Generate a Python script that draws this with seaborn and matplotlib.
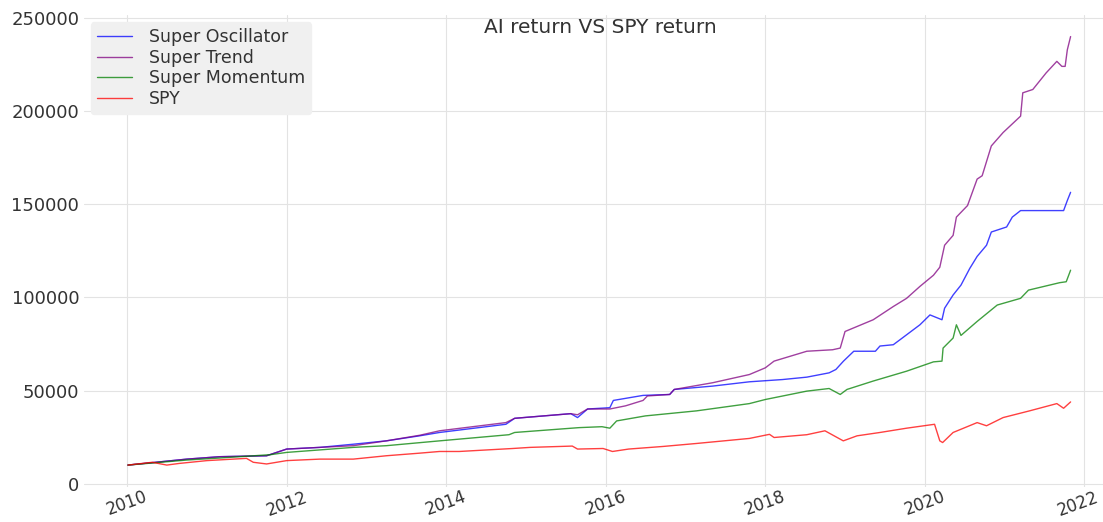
import pandas as pd
import matplotlib
matplotlib.use("Agg")
import matplotlib.pyplot as plt
import matplotlib.dates as mdates
import matplotlib.transforms as mtransforms
import seaborn as sns

# values (portfolio value, start 10000)
spy_dates = ["2010-01-04", "2010-04-25", "2010-07-01", "2010-08-28", "2011-01-01", "2011-07-01",
             "2011-08-01", "2011-10-01", "2012-01-01", "2012-06-01", "2012-11-01", "2013-04-01",
             "2013-09-01", "2013-12-01", "2014-03-01", "2014-11-01", "2015-01-20", "2015-08-01",
             "2015-08-25", "2015-12-20", "2016-02-01", "2016-04-15", "2016-09-20", "2017-02-20",
             "2017-10-20", "2018-01-20", "2018-02-10", "2018-07-10", "2018-10-01", "2018-12-24",
             "2019-02-25", "2019-06-10", "2019-10-10", "2020-02-15", "2020-03-10", "2020-03-23",
             "2020-05-10", "2020-08-28", "2020-10-10", "2020-12-25", "2021-04-25", "2021-08-28",
             "2021-09-28", "2021-10-30"]
spy_vals = [10000, 11500, 10000, 10900, 12400, 13600, 11500, 10600, 12400, 13200, 13200, 15000,
            16400, 17300, 17300, 18900, 19500, 20200, 18600, 18900, 17300, 18600, 20000, 21600,
            24300, 26500, 24800, 26300, 28400, 23000, 25700, 27500, 29800, 31900, 23000, 22100,
            27500, 32800, 31100, 35500, 39100, 43000, 40500, 43900]

mom_dates = ["2010-01-04", "2010-10-01", "2011-03-01", "2011-10-20", "2012-01-01", "2012-11-01",
             "2013-04-01", "2013-12-01", "2014-10-15", "2014-11-10", "2015-09-01", "2015-12-15",
             "2016-01-20", "2016-02-20", "2016-07-01", "2017-02-20", "2017-10-20", "2018-01-01",
             "2018-07-10", "2018-10-20", "2018-12-10", "2019-01-10", "2019-05-10", "2019-10-10",
             "2020-02-10", "2020-03-20", "2020-03-25", "2020-05-10", "2020-05-25", "2020-06-15",
             "2020-08-28", "2020-11-28", "2021-03-15", "2021-04-20", "2021-09-10", "2021-10-10",
             "2021-10-30"]
mom_vals = [10000, 12700, 13800, 15600, 16800, 19500, 20400, 23000, 26300, 27500, 30100, 30600,
            29800, 33700, 36400, 39100, 43000, 45200, 49700, 51100, 47900, 50600, 55100, 60400,
            65400, 65800, 72800, 78200, 85300, 79600, 87100, 95900, 99500, 103900, 107900, 108400,
            114600]

osc_dates = ["2010-01-04", "2010-10-01", "2011-03-01", "2011-10-01", "2012-01-01", "2012-06-01",
             "2012-11-01", "2013-04-01", "2013-09-01", "2013-12-01", "2014-10-01", "2014-11-10",
             "2015-07-25", "2015-08-25", "2015-10-10", "2016-01-20", "2016-02-05", "2016-06-20",
             "2016-10-20", "2016-11-10", "2017-05-05", "2017-10-20", "2018-03-20", "2018-07-10",
             "2018-10-20", "2018-11-20", "2018-12-25", "2019-02-10", "2019-05-20", "2019-06-10",
             "2019-08-10", "2019-09-10", "2019-12-10", "2020-01-25", "2020-03-20", "2020-04-01",
             "2020-05-10", "2020-06-15", "2020-07-25", "2020-08-28", "2020-10-10", "2020-11-01",
             "2021-01-10", "2021-02-05", "2021-03-15", "2021-09-28", "2021-10-15", "2021-10-30"]
osc_vals = [10000, 13200, 14500, 15000, 18600, 19500, 21200, 23000, 25700, 27500, 31900, 35100,
            37600, 35500, 40100, 40800, 44700, 47400, 47900, 50600, 52400, 54700, 55900, 57200,
            59500, 61300, 65800, 71100, 71100, 73900, 74600, 77300, 85300, 90600, 88000, 94200,
            101300, 106600, 115500, 122000, 128000, 135100, 137800, 143100, 146600, 146600, 152000,
            156400]

trend_dates = ["2010-01-04", "2010-10-01", "2011-03-01", "2011-10-01", "2012-01-01", "2012-06-01",
               "2012-11-01", "2013-04-01", "2013-09-01", "2013-12-01", "2014-10-01", "2014-11-10",
               "2015-07-25", "2015-08-25", "2015-10-10", "2016-01-20", "2016-04-01", "2016-06-20",
               "2016-07-10", "2016-10-20", "2016-11-10", "2017-05-05", "2017-10-20", "2018-01-01",
               "2018-02-10", "2018-07-10", "2018-11-05", "2018-12-10", "2019-01-01", "2019-05-10",
               "2019-08-10", "2019-10-10", "2019-12-10", "2020-02-10", "2020-03-10", "2020-04-01",
               "2020-05-10", "2020-05-25", "2020-07-15", "2020-08-28", "2020-09-20", "2020-11-01",
               "2020-12-25", "2021-03-15", "2021-03-25", "2021-05-10", "2021-07-10", "2021-08-28",
               "2021-09-20", "2021-10-05", "2021-10-15", "2021-10-30"]
trend_vals = [10000, 13200, 14500, 15000, 18600, 19500, 20400, 23000, 26000, 28400, 32800, 35100,
              37600, 37000, 40100, 40100, 41800, 44700, 47100, 47900, 50600, 54200, 58600, 62200,
              65800, 71100, 71900, 72800, 81700, 88000, 95100, 99500, 105900, 111900, 116200, 128000,
              133300, 143100, 149300, 163500, 165300, 181300, 188500, 197300, 209800, 211600, 220500,
              226700, 224000, 224000, 232900, 240000]

series_names = ["Super Oscillator", "Super Trend", "Super Momentum", "SPY"]
series_colors = ["blue", "purple", "green", "red"]

frames = []
for name, d, v in zip(series_names,
                      [osc_dates, trend_dates, mom_dates, spy_dates],
                      [osc_vals, trend_vals, mom_vals, spy_vals]):
    frames.append(pd.DataFrame({"date": pd.to_datetime(d), "value": v, "series": name}))
df = pd.concat(frames, ignore_index=True)

sns.set_style("whitegrid", {"grid.color": "#e3e3e3", "axes.edgecolor": "white"})

fig = plt.figure(figsize=(11.03, 5.22), dpi=100)
ax = fig.add_axes([0.0762, 0.0680, 0.9356, 0.903])

sns.lineplot(data=df, x="date", y="value", hue="series", hue_order=series_names,
             palette=dict(zip(series_names, series_colors)), estimator=None,
             linewidth=1, alpha=0.75, ax=ax)

ax.set_xlim(pd.Timestamp("2009-06-17"), pd.Timestamp("2022-05-26"))
ax.set_ylim(-1500, 251500)
ax.xaxis.set_major_locator(mdates.YearLocator(2))
ax.xaxis.set_major_formatter(mdates.DateFormatter("%Y"))
ax.tick_params(axis="y", labelsize=13, colors="#333333", length=0)
ax.tick_params(axis="x", labelsize=12, colors="#333333", length=0, pad=1)
plt.setp(ax.get_xticklabels(), rotation=20)
ax.set_xlabel("")
ax.set_ylabel("")
for s in ax.spines.values():
    s.set_visible(False)

# last year label sits on the right edge, nudge it in a bit
fig.canvas.draw()
last = ax.get_xticklabels()[-1]
last.set_transform(last.get_transform() + mtransforms.ScaledTranslation(-6 / 100, 0, fig.dpi_scale_trans))

ax.set_title("AI return VS SPY return", fontsize=14.5, color="#333333", y=0.962, pad=0)
leg = ax.legend(loc="upper left", fontsize=12.5, facecolor="#f0f0f0", edgecolor="#f0f0f0",
                framealpha=1, labelcolor="#333333", labelspacing=0.15, borderpad=0.35,
                handletextpad=1.0, borderaxespad=0.4)

fig.savefig("out.png", dpi=100)
